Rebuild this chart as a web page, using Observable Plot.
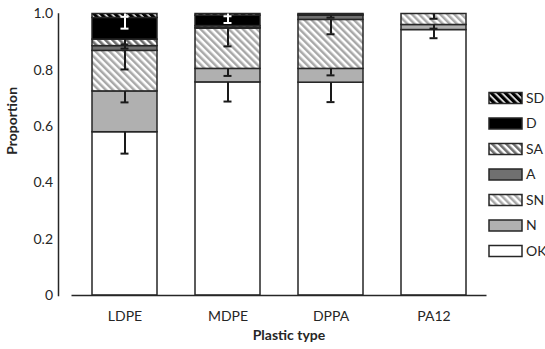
<!DOCTYPE html>
<html><head><meta charset="utf-8">
<script src="https://cdn.jsdelivr.net/npm/d3@7"></script>
<script src="https://cdn.jsdelivr.net/npm/@observablehq/plot@0.6"></script>
<style>body{margin:0;background:#fff}</style>
</head><body><div id="chart"></div>
<script>
const categories = ["LDPE","MDPE","DPPA","PA12"];
const series = ["OK","N","SN","A","SA","D","SD"];
const legendOrder = ["SD","D","SA","A","SN","N","OK"];
// stacked proportions (bottom to top)
const OK = [0.580,0.757,0.756,0.943];
const N  = [0.145,0.048,0.049,0.018];
const SN = [0.144,0.143,0.174,0.039];
const A  = [0.017,0.003,0.015,0];
const SA = [0.023,0.006,0,0];
const D  = [0.077,0.037,0.003,0];
const SD = [0.014,0.006,0.003,0];
// error bar (minus) lengths
const errOK = [0.076,0.068,0.069,0.029];
const errN  = [0.039,0.025,0.023,0.013];
const errSN = [0.066,0.063,0.051,0.017];
const errA  = [0.009,0,0.007,0];
const errSA = [0.017,0,0,0];
const errD  = [0.038,0.026,0,0];
const errSD = [0.010,0.008,0,0];
const yTicks = [0,0.2,0.4,0.6,0.8,1.0];

const values = {OK,N,SN,A,SA,D,SD};
const errs = {OK:errOK,N:errN,SN:errSN,A:errA,SA:errSA,D:errD,SD:errSD};
const fills = {OK:"white",N:"#b0b0b0",SN:"url(#pSN)",A:"#707070",SA:"url(#pSA)",D:"black",SD:"url(#pSD)"};
const errColor = {OK:"#1a1a1a",N:"#1a1a1a",SN:"#1a1a1a",A:"#1a1a1a",SA:"#1a1a1a",D:"white",SD:"white"};

const rows = [];
categories.forEach((c,i)=>{
  let base = 0;
  series.forEach(s=>{
    const v = values[s][i];
    rows.push({cat:c, series:s, y1:base, y2:base+v, v, err:errs[s][i]});
    base += v;
  });
});
const errRows = rows.filter(d=>d.err>0);

const ink = "#262626";
const marks = [];
series.forEach(s=>{
  marks.push(Plot.barY(rows.filter(d=>d.series===s && d.v>0), {x:"cat", y1:"y1", y2:"y2", fill:fills[s], stroke:ink, strokeWidth:1.5}));
});
marks.push(Plot.ruleY([0], {stroke:ink, strokeWidth:1.5}));
marks.push(Plot.frame({anchor:"left", dx:-13.5, stroke:ink, strokeWidth:1.5}));
["#1a1a1a","white"].forEach(col=>{
  const er = errRows.filter(d=>errColor[d.series]===col);
  marks.push(Plot.ruleX(er, {x:"cat", y1:"y2", y2:d=>d.y2-d.err, stroke:col, strokeWidth:2}));
  marks.push(Plot.tickY(er, {x:"cat", y:d=>d.y2-d.err, inset:28.5, stroke:col, strokeWidth:2}));
});
marks.push(Plot.axisY({ticks:yTicks, tickSize:0, tickPadding:19, tickFormat:d=>d===0?"0":d.toFixed(1), label:null, fontSize:14}));
marks.push(Plot.axisX({tickSize:0, tickPadding:16, label:null, fontSize:14}));
marks.push(Plot.text(["Proportion"], {frameAnchor:"left", dx:-59.5, rotate:-90, fontWeight:"bold", fontSize:14, fill:ink}));
marks.push(Plot.text(["Plastic type"], {frameAnchor:"bottom", dx:9.5, dy:44, fontWeight:"bold", fontSize:14, fill:ink}));

const svg = Plot.plot({
  width:545, height:349,
  marginLeft:71.5, marginRight:58.5, marginTop:13.5, marginBottom:54,
  style:{fontFamily:"Lato, 'Open Sans', sans-serif", fontSize:"14px", color:ink, background:"white"},
  x:{type:"band", domain:categories, paddingInner:0.373, paddingOuter:0.1865},
  y:{domain:[0,1]},
  marks
});

const sel = d3.select(svg);
const defs = sel.insert("defs", ":first-child");
function hatch(id, color, w){
  const p = defs.append("pattern").attr("id",id).attr("patternUnits","userSpaceOnUse")
    .attr("width",5).attr("height",5).attr("patternTransform","rotate(-45)");
  p.append("rect").attr("width",5).attr("height",5).attr("fill","white");
  p.append("rect").attr("width",w).attr("height",5).attr("fill",color);
}
hatch("pSN","#a8a8a8",2.5);
hatch("pSA","#6e6e6e",2.6);
hatch("pSD","black",3.4);

const lg = sel.append("g").attr("font-family","Lato, 'Open Sans', sans-serif").attr("font-size",14).attr("fill",ink).attr("text-anchor","start");
legendOrder.forEach((s,i)=>{
  const cy = 98 + i*25.5;
  lg.append("rect").attr("x",489).attr("y",cy-5.5).attr("width",33).attr("height",11)
    .attr("fill",fills[s]).attr("stroke",ink).attr("stroke-width",1.5);
  lg.append("text").attr("x",526).attr("y",cy).attr("dy","0.35em").attr("text-anchor","start").text(s);
});

document.getElementById("chart").appendChild(svg);
</script>
</body></html>
